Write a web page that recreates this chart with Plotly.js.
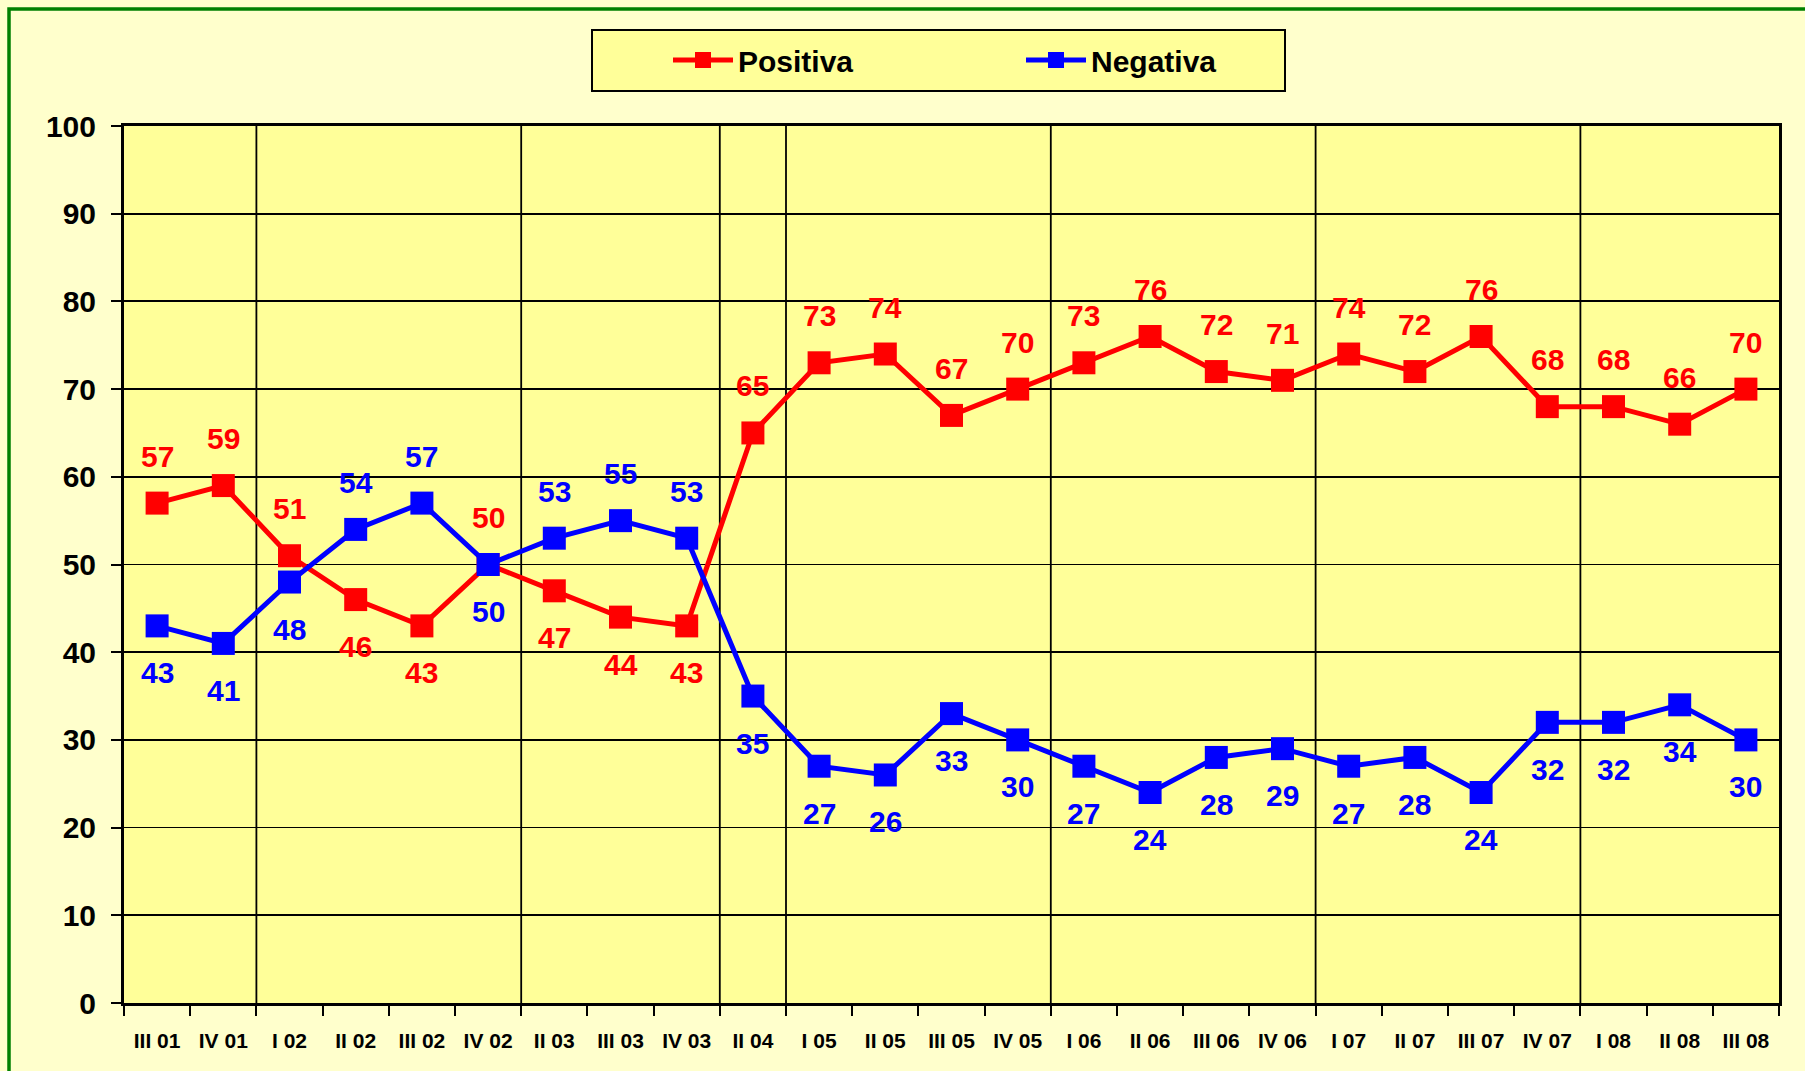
<!DOCTYPE html>
<html>
<head>
<meta charset="utf-8">
<script src="https://cdn.plot.ly/plotly-3.0.1.min.js"></script>
<style>
html,body{margin:0;padding:0;background:#FFFFCC;}
#chart{width:1805px;height:1071px;}
</style>
</head>
<body>
<div id="chart"></div>
<script>
const categories = ["III 01","IV 01","I 02","II 02","III 02","IV 02","II 03","III 03","IV 03","II 04","I 05","II 05","III 05","IV 05","I 06","II 06","III 06","IV 06","I 07","II 07","III 07","IV 07","I 08","II 08","III 08"];
const positiva = [57,59,51,46,43,50,47,44,43,65,73,74,67,70,73,76,72,71,74,72,76,68,68,66,70];
const negativa = [43,41,48,54,57,50,53,55,53,35,27,26,33,30,27,24,28,29,27,28,24,32,32,34,30];
const yearBoundaries = [1.5,5.5,8.5,9.5,13.5,17.5,21.5];

const RED = "#FF0000", BLUE = "#0000FF";
const FONT = "Liberation Sans, Arial, sans-serif";

const W = 1805, H = 1071;
const M = {l:124, r:26, t:126, b:68};
const PW = W - M.l - M.r, PH = H - M.t - M.b;
const px = x => (x - M.l) / PW;
const py = y => (H - M.b - y) / PH;

function series(name, vals, color){
  return {
    type:"scatter", mode:"lines+markers", name:name,
    x:categories, y:vals,
    line:{color:color, width:5},
    marker:{symbol:"square", size:23, color:color},
    cliponaxis:false
  };
}

const annotations = [];
categories.forEach((c,i)=>{
  const pAbove = positiva[i] >= negativa[i];
  annotations.push({x:c, y:positiva[i], text:String(positiva[i]), showarrow:false,
    yshift: pAbove ? 47 : -47, font:{family:FONT, size:30, color:RED, weight:"bold"}});
  annotations.push({x:c, y:negativa[i], text:String(negativa[i]), showarrow:false,
    yshift: pAbove ? -47 : 47, font:{family:FONT, size:30, color:BLUE, weight:"bold"}});
});

const shapes = yearBoundaries.map(b=>({
  type:"line", xref:"x", yref:"y", x0:b, x1:b, y0:0, y1:100,
  line:{color:"#000000", width:1.8}, layer:"below"
}));
// legend box
shapes.push({type:"rect", xref:"paper", yref:"paper",
  x0:px(592), x1:px(1285), y0:py(91), y1:py(30),
  line:{color:"#000", width:2}, fillcolor:"#FFFF99", layer:"below"});
// green frame
shapes.push({type:"rect", xref:"paper", yref:"paper",
  x0:px(9), x1:1.2, y0:-0.3, y1:py(9),
  line:{color:"#008000", width:3.5}, fillcolor:"rgba(0,0,0,0)", layer:"below"});

const layout = {
  width:W, height:H,
  margin:M,
  paper_bgcolor:"#FFFFCC", plot_bgcolor:"#FFFF99",
  showlegend:true,
  legend:{orientation:"h", x:px(668), xanchor:"left", y:py(60), yanchor:"middle",
    bgcolor:"rgba(0,0,0,0)", borderwidth:0, entrywidth:278, itemwidth:60,
    font:{family:FONT, size:30, color:"#000", weight:"bold"}},
  xaxis:{type:"category", range:[-0.5, categories.length-0.5],
    showgrid:false, zeroline:false, showline:true, linecolor:"#000", linewidth:3, mirror:true,
    ticks:"outside", tickson:"boundaries", ticklen:10, tickwidth:2, tickcolor:"#000",
    ticklabelstandoff:17,
    tickfont:{family:FONT, size:21, color:"#000", weight:"bold"}},
  yaxis:{range:[0,100], dtick:10, showgrid:true, gridcolor:"#000", gridwidth:1.8,
    zeroline:false, showline:true, linecolor:"#000", linewidth:3, mirror:true,
    ticks:"outside", ticklen:10, tickwidth:2, tickcolor:"#000", ticklabelstandoff:9,
    tickfont:{family:FONT, size:30, color:"#000", weight:"bold"}},
  shapes:shapes,
  annotations:annotations
};

Plotly.newPlot("chart", [series("Positiva", positiva, RED), series("Negativa", negativa, BLUE)], layout, {displayModeBar:false, staticPlot:true});
</script>
</body>
</html>
